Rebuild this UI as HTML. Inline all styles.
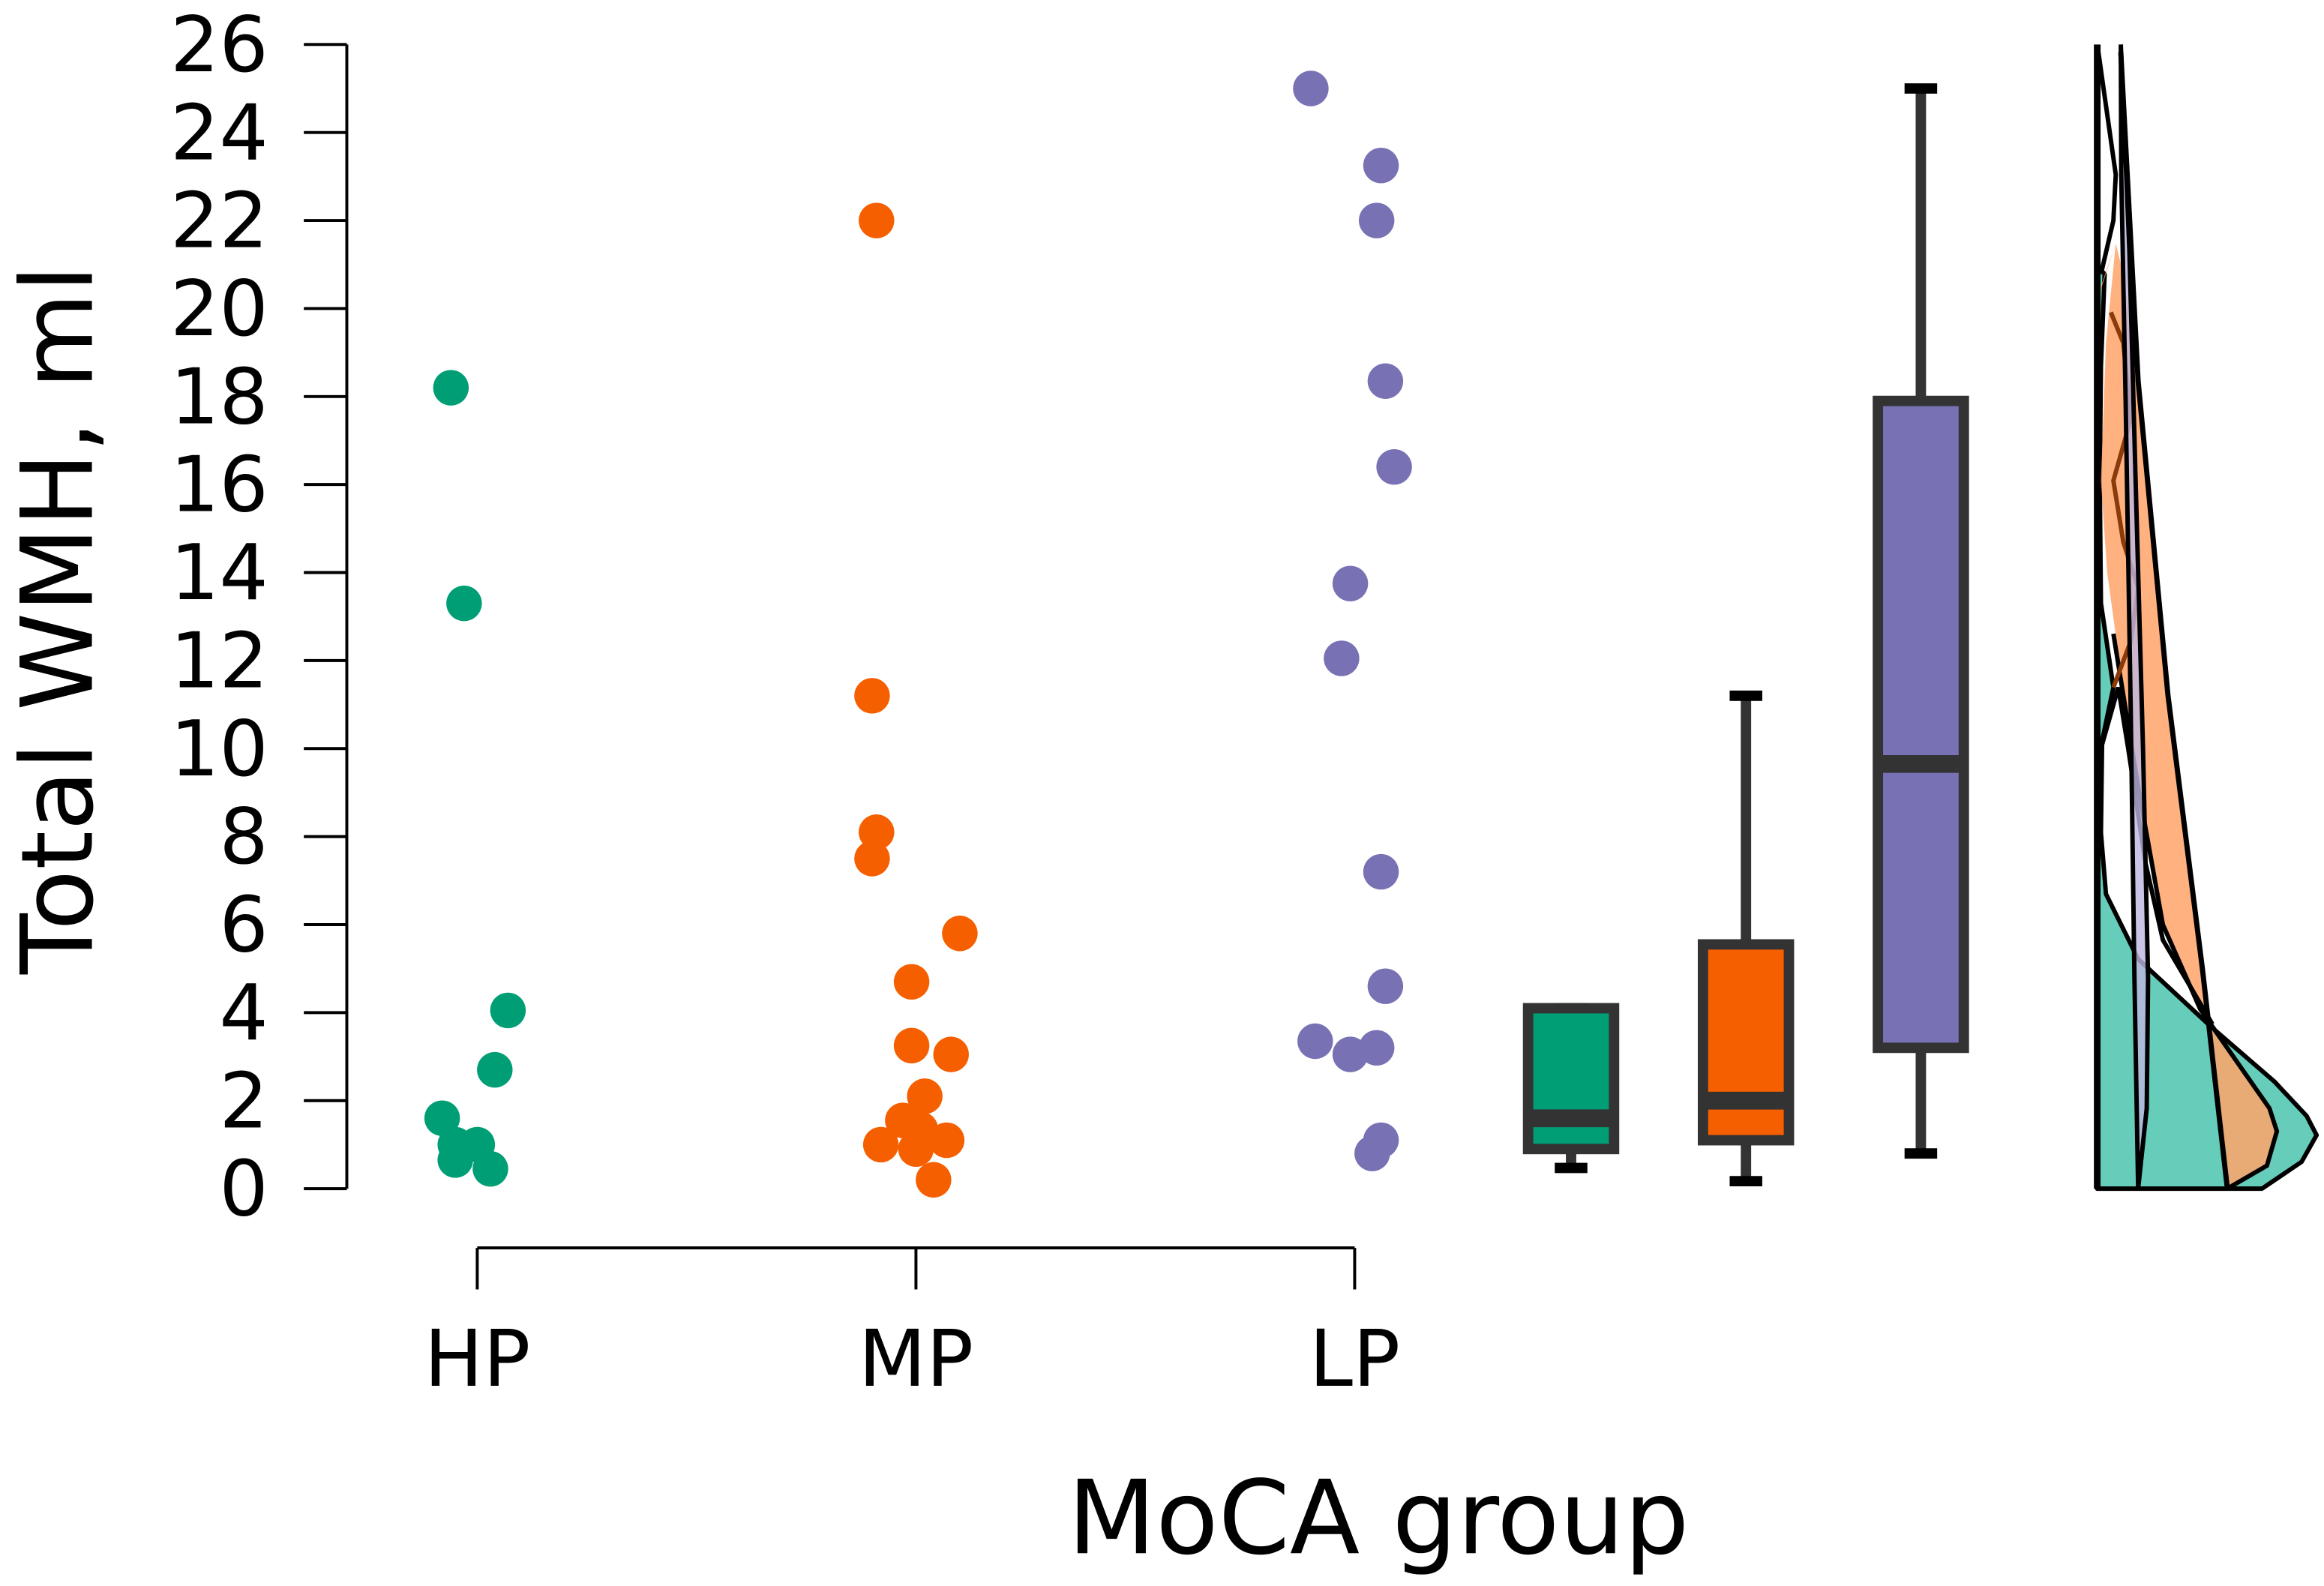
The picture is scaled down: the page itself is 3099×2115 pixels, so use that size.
<!DOCTYPE html>
<html><head><meta charset="utf-8">
<style>html,body{margin:0;padding:0;background:#fff}svg{display:block}text{font-family:"DejaVu Sans","Liberation Sans",sans-serif;fill:#000}</style>
</head><body>
<svg id="chart" width="3099" height="2115" viewBox="0 0 1568 1070.1" xmlns="http://www.w3.org/2000/svg">
<g id="density"></g>
</svg>
<script>
const categories = ["HP","MP","LP"];
const colors = ["#009E74","#F55F00","#7872B4"];
const hpValues = [18.2,13.3,4.05,2.7,1.6,1.0,0.65,1.0,0.45];
const hpJitter = [-0.06,-0.03,0.07,0.04,-0.08,-0.05,-0.05,0.0,0.03];
const mpValues = [22.0,11.2,8.1,7.5,5.8,4.7,3.25,3.05,2.1,1.55,1.35,1.0,0.9,1.1,0.2];
const mpJitter = [-0.09,-0.1,-0.09,-0.1,0.1,-0.01,-0.01,0.08,0.02,-0.03,0.01,-0.08,0.0,0.07,0.04];
const lpValues = [25.0,23.25,22.0,18.35,16.4,13.75,12.05,7.2,4.6,3.35,3.05,3.2,1.1,0.8];
const lpJitter = [-0.1,0.06,0.05,0.07,0.09,-0.01,-0.03,0.06,0.07,-0.09,-0.01,0.05,0.06,0.04];
const boxMin = [0.47,0.17,0.8];
const boxQ1 = [0.9,1.1,3.2];
const boxMedian = [1.6,2.0,9.65];
const boxQ3 = [4.1,5.55,17.9];
const boxMax = [4.1,11.2,25.0];
const yTicks = [0,2,4,6,8,10,12,14,16,18,20,22,24,26];

const NS="http://www.w3.org/2000/svg";
const svg=document.getElementById('chart');
const yS=v=>802-v*(772/26);
const xCat=i=>322+i*296;
const boxX=i=>1060+i*118;
function el(tag,attrs,parent){const e=document.createElementNS(NS,tag);for(const k in attrs)e.setAttribute(k,attrs[k]);(parent||svg).appendChild(e);return e;}

const yAxis=el('line',{x1:234,y1:yS(26),x2:234,y2:yS(0),stroke:'#000','stroke-width':2});


yTicks.forEach(t=>{
  const tk=el('line',{x1:205,x2:234,y1:yS(t),y2:yS(t),stroke:'#000','stroke-width':2});
  
  
  const tl=el('text',{x:181,y:yS(t)+18,'text-anchor':'end','font-size':52});
  tl.textContent=t;
  
  
});
const yt=el('text',{x:0,y:0,'text-anchor':'middle','font-size':67,transform:'translate(62,418) rotate(-90)'});
yt.textContent='Total WMH, ml';



const xAxis=el('line',{x1:xCat(0),x2:xCat(2),y1:842,y2:842,stroke:'#000','stroke-width':2});


categories.forEach((c,i)=>{
  const tk=el('line',{x1:xCat(i),x2:xCat(i),y1:842,y2:870,stroke:'#000','stroke-width':2});
  
  
  const tl=el('text',{x:xCat(i),y:935,'text-anchor':'middle','font-size':53});
  tl.textContent=c;
  
  
});
const xt=el('text',{x:930,y:1048,'text-anchor':'middle','font-size':69});
xt.textContent='MoCA group';



[[hpValues,hpJitter],[mpValues,mpJitter],[lpValues,lpJitter]].forEach(([vals,jit],i)=>{
  vals.forEach((v,j)=>{
    const p=el('circle',{cx:xCat(i)+jit[j]*296,cy:yS(v),r:12,fill:colors[i]});
    
    
  });
});

categories.forEach((c,i)=>{
  const cx=boxX(i),w=58;
  const g=el('g',{});
  
  
  el('line',{x1:cx,x2:cx,y1:yS(boxMax[i]),y2:yS(boxQ3[i]),stroke:'#333','stroke-width':7},g);
  el('line',{x1:cx,x2:cx,y1:yS(boxQ1[i]),y2:yS(boxMin[i]),stroke:'#333','stroke-width':7},g);
  el('line',{x1:cx-11,x2:cx+11,y1:yS(boxMin[i]),y2:yS(boxMin[i]),stroke:'#000','stroke-width':7},g);
  el('line',{x1:cx-11,x2:cx+11,y1:yS(boxMax[i]),y2:yS(boxMax[i]),stroke:'#000','stroke-width':7},g);
  el('rect',{x:cx-w/2,y:yS(boxQ3[i]),width:w,height:yS(boxQ1[i])-yS(boxQ3[i]),fill:colors[i],stroke:'#333','stroke-width':7},g);
  el('line',{x1:cx-w/2,x2:cx+w/2,y1:yS(boxMedian[i]),y2:yS(boxMedian[i]),stroke:'#333','stroke-width':12},g);
});

const dg=document.getElementById('density');
const tx=p=>p.map(([zx,zy])=>[(1415+(zx-135)*0.1672).toFixed(1),(30+(zy-30)*0.5164).toFixed(1)]);
const path=(pts,close)=>{const q=tx(pts);let d='M'+q[0].join(',');for(let k=1;k<q.length;k++)d+=' L'+q[k].join(',');return d+(close?' Z':'');};
const greenShape=[[135,320],[165,330],[150,450],[145,600],[150,760],[200,870],[155,940],[150,1060],[170,1140],[300,1225],[600,1315],[850,1385],[980,1430],[1020,1455],[960,1490],[800,1525],[135,1525]];
const orangeShape=[[135,360],[210,290],[170,420],[150,600],[175,720],[230,850],[300,1000],[400,1180],[550,1290],[700,1360],[830,1420],[860,1450],[820,1495],[660,1525],[560,1240],[420,880],[300,470],[240,330],[210,290],[150,350],[135,800]];
const purpleShape=[[230,30],[265,300],[290,600],[320,950],[340,1250],[335,1420],[300,1525],[285,1250],[270,900],[250,500],[232,200]];
let e;
e=el('path',{d:path(greenShape,true),fill:'#66CDBB',stroke:'#000','stroke-width':3,'stroke-linejoin':'round'},dg);


e=el('path',{d:path(orangeShape,true),fill:'#FFA46A','fill-opacity':0.85,stroke:'none'},dg);


e=el('path',{d:path([[660,1525],[560,1240],[420,880],[300,470],[230,40]],false),fill:'none',stroke:'#000','stroke-width':3.5},dg);
e=el('path',{d:path([[200,800],[300,1000],[400,1180],[550,1290],[700,1360],[830,1420],[860,1450],[820,1495],[660,1525]],false),fill:'none',stroke:'#000','stroke-width':3},dg);
e=el('path',{d:path([[150,330],[200,260],[210,200],[170,110],[140,40]],false),fill:'none',stroke:'#000','stroke-width':3},dg);
e=el('path',{d:path([[150,950],[220,870],[260,950],[330,1100],[400,1200],[600,1310]],false),fill:'none',stroke:'#000','stroke-width':3},dg);
e=el('path',{d:path([[190,380],[240,420],[270,520],[200,600],[240,680],[300,740],[270,810],[200,870]],false),fill:'none',stroke:'#8B3A0A','stroke-width':3},dg);
e=el('path',{d:path(purpleShape,true),fill:'#BDB7E0','fill-opacity':0.8,stroke:'#000','stroke-width':3},dg);


e=el('line',{x1:1415,x2:1415,y1:30,y2:802,stroke:'#000','stroke-width':4.5},dg);


</script>
</body></html>
